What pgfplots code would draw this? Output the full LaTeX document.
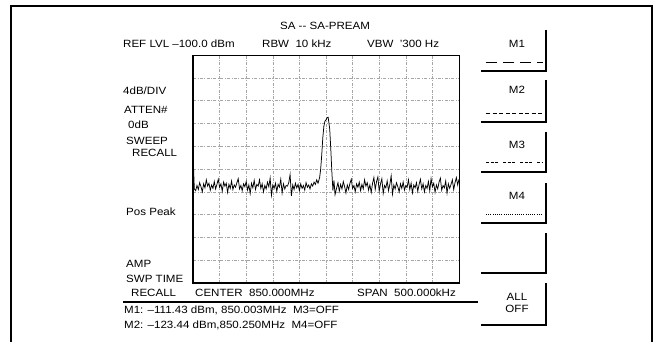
\documentclass[border=0pt]{standalone}
\usepackage{pgfplots}
\pgfplotsset{compat=1.18}
\usepackage{fontspec}
\setmainfont{Liberation Sans}[FakeStretch=1.1]
\begin{document}
\begin{tikzpicture}[x=1pt,y=1pt]
\fontsize{10.5}{12}\selectfont
\path (0,0) rectangle (653,343);
% outer frame
\draw[line width=1.3pt] (11,1)--(11,337)--(652,337)--(652,1);
\begin{axis}[at={(193pt,60pt)}, anchor=south west, scale only axis,
  width=266pt, height=228pt,
  xmin=-250, xmax=250, ymin=-140, ymax=-100,
  xtick={-200,-150,...,200}, ytick={-136,-132,...,-104},
  xticklabels={}, yticklabels={},
  major tick length=0pt,
  grid=major,
  major grid style={gray!70, line width=0.5pt, dash pattern=on 3pt off 1.5pt on 0.8pt off 1.5pt},
  axis line style={line width=0.8pt},
  clip=true]
\addplot[black, line width=0.75pt] coordinates {
(-250,-117.2) (-247.5,-123.5) (-245,-123.8) (-242.5,-122.9) (-240,-123.6) (-237.5,-122.4)
(-235,-123.1) (-232.5,-124.0) (-230,-122.6) (-227.5,-123.3) (-225,-121.9) (-222.5,-123.0)
(-220,-122.5) (-217.5,-123.7) (-215,-122.8) (-212.5,-123.4) (-210,-122.2) (-207.5,-123.5)
(-205,-122.7) (-202.5,-121.8) (-200,-123.2) (-197.5,-122.6) (-195,-123.9) (-192.5,-122.3)
(-190,-123.0) (-187.5,-122.5) (-185,-124.1) (-182.5,-122.7) (-180,-123.4) (-177.5,-122.1)
(-175,-123.6) (-172.5,-122.8) (-170,-123.2) (-167.5,-122.4) (-165,-121.7) (-162.5,-123.5)
(-160,-122.9) (-157.5,-123.8) (-155,-122.6) (-152.5,-123.1) (-150,-122.2) (-147.5,-123.7)
(-145,-122.8) (-142.5,-124.3) (-140,-122.5) (-137.5,-123.3) (-135,-122.0) (-132.5,-123.6)
(-130,-122.7) (-127.5,-123.0) (-125,-121.9) (-122.5,-123.4) (-120,-122.6) (-117.5,-124.0)
(-115,-122.9) (-112.5,-123.5) (-110,-122.3) (-107.5,-123.1) (-105,-121.6) (-102.5,-124.6)
(-100,-122.8) (-97.5,-123.4) (-95,-122.5) (-92.5,-123.9) (-90,-122.7) (-87.5,-123.2)
(-85,-121.8) (-82.5,-124.2) (-80,-122.6) (-77.5,-123.5) (-75,-122.9) (-72.5,-123.0)
(-70,-122.4) (-67.5,-121.0) (-65,-124.7) (-62.5,-122.8) (-60,-123.6) (-57.5,-122.5)
(-55,-123.3) (-52.5,-122.7) (-50,-123.8) (-47.5,-122.6) (-45,-123.4) (-42.5,-122.9)
(-40,-123.7) (-37.5,-122.4) (-35,-123.2) (-32.5,-122.8) (-30,-123.5) (-27.5,-122.6)
(-25,-123.0) (-22.5,-122.3) (-20,-122.7) (-17.5,-121.9) (-15,-122.5)
(-12,-121.5) (-10,-120.0) (-8,-117.5) (-6,-114.5) (-4,-112.5) (-2,-111.6) (0,-111.4)
(2,-111.0) (4,-110.9) (5,-111.6) (7,-113.0) (9,-116.5) (11,-120.5) (13,-123.8) (15,-122.0)
(17,-124.5) (20,-123.3) (22.5,-122.4) (25,-123.9) (27.5,-122.7) (30,-123.5) (32.5,-122.2)
(35,-123.1) (37.5,-124.2) (40,-122.8) (42.5,-123.6) (45,-122.5) (47.5,-121.8) (50,-123.4)
(52.5,-122.9) (55,-124.0) (57.5,-122.6) (60,-123.2) (62.5,-122.3) (65,-123.8) (67.5,-122.7)
(70,-123.5) (72.5,-121.9) (75,-123.0) (77.5,-122.4) (80,-123.7) (82.5,-122.8) (85,-124.1)
(87.5,-122.5) (90,-121.5) (92.5,-123.6) (95,-122.2) (97.5,-121.4) (100,-123.9) (102.5,-122.6)
(105,-121.7) (107.5,-124.3) (110,-122.9) (112.5,-123.3) (115,-122.1) (117.5,-123.8)
(120,-122.7) (122.5,-121.2) (125,-124.4) (127.5,-122.8) (130,-123.5) (132.5,-122.4)
(135,-123.1) (137.5,-124.0) (140,-122.6) (142.5,-123.4) (145,-122.3) (147.5,-123.7)
(150,-122.9) (152.5,-123.2) (155,-121.9) (157.5,-123.6) (160,-122.5) (162.5,-124.2)
(165,-122.8) (167.5,-123.3) (170,-122.4) (172.5,-123.9) (175,-122.7) (177.5,-121.8)
(180,-123.5) (182.5,-122.6) (185,-124.0) (187.5,-122.9) (190,-123.4) (192.5,-122.2)
(195,-123.8) (197.5,-121.7) (200,-123.1) (202.5,-122.5) (205,-124.1) (207.5,-122.8)
(210,-123.5) (212.5,-122.3) (215,-121.6) (217.5,-123.7) (220,-122.9) (222.5,-123.3)
(225,-122.1) (227.5,-124.2) (230,-122.6) (232.5,-123.4) (235,-122.7) (237.5,-121.9)
(240,-123.6) (242.5,-122.4) (245,-121.5) (247.5,-122.8) (250,-121.8)
};
\end{axis}
% thick left and bottom border of graticule
\draw[line width=1.5pt] (193,288)--(193,60)--(459,60);
% texts
\node[anchor=base] at (325,313) {SA -{}- SA-PREAM};
\node[anchor=base west, inner sep=0pt] at (123,295.5) {REF LVL –100.0 dBm};
\node[anchor=base west, inner sep=0pt] at (262,295.5) {RBW\ \ 10 kHz};
\node[anchor=base west, inner sep=0pt] at (367,295.5) {VBW\ \ ’300 Hz};
\node[anchor=base west, inner sep=0pt] at (123,248.5) {4dB/DIV};
\node[anchor=base west, inner sep=0pt] at (124,229.5) {ATTEN\#};
\node[anchor=base west, inner sep=0pt] at (128,214.5) {0dB};
\node[anchor=base west, inner sep=0pt] at (126,198) {SWEEP};
\node[anchor=base west, inner sep=0pt] at (132,186.5) {RECALL};
\node[anchor=base west, inner sep=0pt] at (126,128) {Pos Peak};
\node[anchor=base west, inner sep=0pt] at (126,76) {AMP};
\node[anchor=base west, inner sep=0pt] at (126,60.5) {SWP TIME};
\node[anchor=base west, inner sep=0pt] at (131,47) {RECALL};
\node[anchor=base west, inner sep=0pt] at (195,47) {CENTER\ \ 850.000MHz};
\node[anchor=base west, inner sep=0pt] at (357,47) {SPAN\ \ 500.000kHz};
\draw[line width=1.2pt] (123,41)--(478,41);
\node[anchor=base west, inner sep=0pt] at (124,29.5) {M1: –111.43 dBm, 850.003MHz\ \ M3=OFF};
\node[anchor=base west, inner sep=0pt] at (124,14.5) {M2: –123.44 dBm,850.250MHz\ \ M4=OFF};
% soft keys
\begin{scope}[line width=1.2pt]
\draw (546,313)--(546,272)--(481,272);
\draw (546,263)--(546,221)--(481,221);
\draw (546,211)--(546,171)--(481,171);
\draw (546,160)--(546,120)--(481,120);
\draw (546,110)--(546,70)--(481,70);
\draw (546,60)--(546,18)--(481,18);
\end{scope}
\node[anchor=base] at (517,295) {M1};
\node[anchor=base] at (517,249.5) {M2};
\node[anchor=base] at (517,194) {M3};
\node[anchor=base] at (517,143) {M4};
\node[anchor=base] at (517,42.5) {ALL};
\node[anchor=base] at (517,30.5) {OFF};
\draw[line width=0.8pt, dash pattern=on 11pt off 6pt] (486,281)--(543,281);
\draw[line width=0.8pt, dash pattern=on 4pt off 2.5pt] (486,230)--(543,230);
\draw[line width=0.7pt, dash pattern=on 3pt off 1.5pt on 3pt off 1.5pt on 3pt off 5pt] (486,181)--(543,181);
\draw[line width=0.7pt, dash pattern=on 1pt off 1.2pt] (486,129)--(543,129);
\end{tikzpicture}
\end{document}
